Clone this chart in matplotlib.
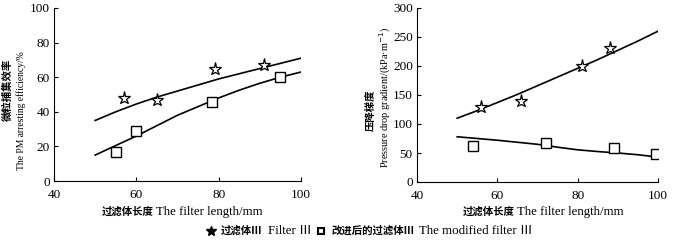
import matplotlib.pyplot as plt
from matplotlib.lines import Line2D

# left panel: PM arresting efficiency (%)
eff_star_x = [57, 65, 79, 91]
eff_star_y = [48, 47, 65, 67]
eff_sq_x = [55, 60, 78.5, 95]
eff_sq_y = [17, 29, 45.5, 60]
eff_fit_x = [50, 55, 60, 65, 70, 75, 80, 85, 90, 95, 100]
eff_fit1_y = [35, 40, 44.5, 48.5, 52, 55.5, 59, 62, 65, 68, 71]
eff_fit2_y = [15, 20.5, 26, 32, 38, 43, 48, 52.5, 56.5, 60, 63]

# right panel: pressure drop gradient (kPa/m)
dp_star_x = [56, 66, 81, 88]
dp_star_y = [130, 139, 200, 231]
dp_sq_x = [54, 72, 89, 99.5]
dp_sq_y = [62, 67, 59, 48]
dp_fit_x = [50, 55, 60, 65, 70, 75, 80, 85, 90, 95, 100]
dp_fit1_y = [110, 123, 137, 151, 166, 181, 196, 211, 227, 243, 260]
dp_fit2_y = [78, 75, 72, 68.5, 65, 60, 55.5, 52.5, 50, 47, 43]

W, H = 673, 240
fam = ['Liberation Serif', 'Noto Sans CJK SC']
plt.rcParams['font.family'] = fam
plt.rcParams['font.size'] = 9.5

fig = plt.figure(figsize=(W / 100, H / 100), dpi=100)
ax1 = fig.add_axes([54 / W, 1 - 181 / H, 247 / W, 173 / H])
ax2 = fig.add_axes([417 / W, 1 - 182 / H, 241 / W, 174 / H])

star = dict(marker='*', ms=9.5, mfc='white', mec='black', mew=0.9, ls='none')
sq = dict(marker='s', ms=6.5, mfc='white', mec='black', mew=1.0, ls='none')

ax1.plot(eff_fit_x, eff_fit1_y, 'k-', lw=1.2)
ax1.plot(eff_fit_x, eff_fit2_y, 'k-', lw=1.2)
ax1.plot(eff_star_x, eff_star_y, **star)
ax1.plot(eff_sq_x, eff_sq_y, **sq)
ax1.set_ylim(0, 100)
ax1.set_yticks([0, 20, 40, 60, 80, 100])

ax2.plot(dp_fit_x, dp_fit1_y, 'k-', lw=1.2)
ax2.plot(dp_fit_x, dp_fit2_y, 'k-', lw=1.2)
ax2.plot(dp_star_x, dp_star_y, **star)
ax2.plot(dp_sq_x, dp_sq_y, **sq)
ax2.set_ylim(0, 300)
ax2.set_yticks([0, 50, 100, 150, 200, 250, 300])

for ax in (ax1, ax2):
    ax.set_xlim(40, 100)
    ax.set_xticks([40, 60, 80, 100])
    ax.spines['top'].set_visible(False)
    ax.spines['right'].set_visible(False)
    ax.tick_params(direction='in', length=3, width=0.8, pad=3)
    ax.tick_params(axis='x', pad=6)

cn = dict(fontsize=7.5, fontweight='bold')
en = dict(fontsize=9.3)

# y labels (chinese bold line + english line)
fig.text(8 / W, 1 - 90 / H, '微粒捕集效率', rotation=90, ha='center', va='center',
         fontsize=7.5, fontweight='bold')
fig.text(21 / W, 1 - 111 / H, 'The PM arresting efficiency/%', rotation=90,
         ha='center', va='center', fontsize=6.9)
fig.text(371 / W, 1 - 110 / H, '压降梯度', rotation=90, ha='center', va='center',
         fontsize=7.5, fontweight='bold')
fig.text(385 / W, 1 - 97 / H, 'Pressure drop gradient/(kPa·m$^{-1}$)', rotation=90,
         ha='center', va='center', fontsize=7.4)

renderer = fig.canvas.get_renderer()


def row(x_px, y_px, pieces):
    # lay out mixed-font pieces left to right, starting at x_px
    x = x_px
    for kind, val, kw in pieces:
        if kind == 'gap':
            x += val
        elif kind == 'mark':
            fig.add_artist(Line2D([(x + 4) / W], [1 - y_px / H], transform=fig.transFigure, **kw))
            x += 9
        else:
            t = fig.text(x / W, 1 - y_px / H, val, ha='left', va='center', **kw)
            x += t.get_window_extent(renderer).width


row(102, 212, [('t', '过滤体长度', cn), ('gap', 2, None), ('t', 'The filter length/mm', en)])
row(463, 212, [('t', '过滤体长度', cn), ('gap', 2, None), ('t', 'The filter length/mm', en)])

leg_star = dict(marker='*', ms=7, mfc='black', mec='black', ls='none')
leg_sq = dict(marker='s', ms=5, mfc='white', mec='black', mew=1.5, ls='none')
row(207, 231, [('mark', None, leg_star), ('gap', 5, None),
               ('t', '过滤体Ⅲ', cn), ('gap', 5, None), ('t', 'Filter Ⅲ', en), ('gap', 6, None),
               ('mark', None, leg_sq), ('gap', 5, None),
               ('t', '改进后的过滤体Ⅲ', cn), ('gap', 5, None), ('t', 'The modified filter Ⅲ', en)])

fig.savefig('out.png', dpi=100)
